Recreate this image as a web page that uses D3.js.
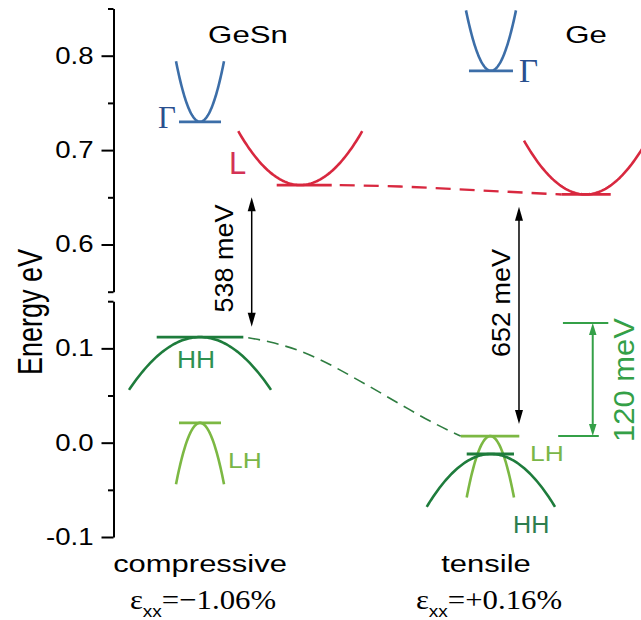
<!DOCTYPE html>
<html>
<head>
<meta charset="utf-8">
<script src="https://cdn.jsdelivr.net/npm/d3@7"></script>
<style>
  body { margin: 0; background: #fff; }
  svg { display: block; }
</style>
</head>
<body>
<svg id="chart" width="641" height="620"></svg>
<script>
// ---- band-edge data (energies in eV, k in schematic units) ----
const bandNames      = ["Γ", "L", "HH", "LH", "Γ", "L", "LH", "HH"];
const bandMaterial   = ["GeSn", "GeSn", "GeSn", "GeSn", "Ge", "Ge", "Ge", "Ge"];
const bandCenter     = [16.4, 35.4, 16.4, 16.4, 71.56, 89.48, 71.44, 71.54];
const bandEdge       = [0.730, 0.663, 0.112, 0.021, 0.784, 0.653, 0.007, -0.012];
const bandArmEnergy  = [0.794, 0.720, 0.056, -0.044, 0.848, 0.710, -0.058, -0.068];
const bandHalfWidth  = [4.55, 11.75, 13.46, 4.55, 4.74, 11.66, 4.48, 12.16];

// L-valley trend between the two alloys (dashed)
const lTrendK = [41.37, 54.31, 69.48, 84.97];
const lTrendE = [0.663, 0.6614, 0.6573, 0.653];
// top valence band trend (dashed)
const vbTrendK = [24.61, 29.67, 35.36, 39.15, 46.73, 54.31, 60.0, 63.79, 65.82];
const vbTrendE = [0.112, 0.1067, 0.0971, 0.0880, 0.0653, 0.0409, 0.0229, 0.0123, 0.007];

// band gaps (eV) measured from the HH edge of each alloy
const gapValues   = [0.538, 0.652];
const gapBaseBand = [2, 7];           // index of the HH band
const gapArrowLow = [0.123, 0.0197];  // lower arrow tip
// LH/HH splitting for Ge
const splitValue  = 0.120;
const splitBase   = 6;                // Ge LH edge

// axis ticks
const upperDomain = [0.55, 0.85];
const lowerDomain = [-0.1, 0.15];
const upperMajor = [0.6, 0.7, 0.8];
const upperMinor = [0.55, 0.65, 0.75, 0.85];
const lowerMajor = [-0.1, 0.0, 0.1];
const lowerMinor = [-0.05, 0.05, 0.15];

const columnTitles = ["GeSn", "Ge"];
const strainType   = ["compressive", "tensile"];
const strainValue  = ["−1.06%", "+0.16%"];

// ---- drawing ----
const svg = d3.select("#chart");
const sans  = "'Liberation Sans', Arial, Helvetica, sans-serif";
const serif = "'Liberation Serif', 'Times New Roman', Times, serif";

const x = d3.scaleLinear().domain([0, 100]).range([113.5, 641]);
const yTop = d3.scaleLinear().domain(upperDomain).range([291.7, 8.5]);
const yBot = d3.scaleLinear().domain(lowerDomain).range([537, 301.2]);
const y = v => (v > 0.4 ? yTop(v) : yBot(v));

const colors = { "Γ": "#3c6ea8", "L": "#d8283f", "HH": "#1e7c3c", "LH": "#7cb843" };

function addText(parent, str, px, py, o) {
  return parent.append("text")
    .attr("transform", `translate(${px},${py})` + (o.rot ? ` rotate(${o.rot})` : "") +
      ` scale(${o.sx || 1},${o.sy || 1})`)
    .attr("font-family", o.family || sans)
    .attr("font-size", o.size)
    .attr("fill", o.fill || "#000")
    .attr("text-anchor", o.anchor || "middle")
    .text(str);
}

// broken y axis: two segments
function drawAxis(scale, major, minor) {
  const g = svg.append("g").attr("transform", `translate(${x(0)},0)`);
  g.append("g").call(d3.axisLeft(scale).tickValues(minor).tickSize(5.5).tickSizeOuter(0).tickFormat(""));
  const m = g.append("g").call(d3.axisLeft(scale).tickValues(major).tickSize(12).tickSizeOuter(0)
    .tickFormat(d => d.toFixed(1)));
  m.select(".domain").remove();
  g.selectAll("path, line").attr("stroke", "#000").attr("stroke-width", 2);
  m.selectAll("text")
    .attr("x", null)
    .attr("transform", "translate(-20,0) scale(1.2,1)")
    .attr("font-family", sans).attr("font-size", 23).attr("fill", "#000");
}
drawAxis(yTop, upperMajor, upperMinor);
drawAxis(yBot, lowerMajor, lowerMinor);

addText(svg, "Energy eV", 42, 312, { size: 27, rot: -90, sy: 1.3 });

// band-edge marker lines (k extents)
const edgeSpan = [[12.42, 20.38], [30.94, 41.37], [8.19, 24.61], [12.42, 20.38],
                  [67.39, 75.73], [84.97, 94.26], [65.82, 76.93], [66.96, 75.92]];

const bands = bandNames.map((n, i) => ({
  name: n, mat: bandMaterial[i], k0: bandCenter[i], e0: bandEdge[i],
  eArm: bandArmEnergy[i], hw: bandHalfWidth[i], span: edgeSpan[i]
}));

const line = d3.line().x(d => x(d[0])).y(d => y(d[1]));
const gBands = svg.append("g");
bands.forEach(b => {
  gBands.append("line")
    .attr("x1", x(b.span[0])).attr("x2", x(b.span[1]))
    .attr("y1", y(b.e0)).attr("y2", y(b.e0))
    .attr("stroke", colors[b.name]).attr("stroke-width", 2.8);
  const pts = d3.range(0, 81).map(j => {
    const k = b.k0 - b.hw + 2 * b.hw * j / 80;
    return [k, b.e0 + (b.eArm - b.e0) * ((k - b.k0) / b.hw) ** 2];
  });
  gBands.append("path").attr("d", line(pts))
    .attr("fill", "none").attr("stroke", colors[b.name]).attr("stroke-width", 2.6);
});

// dashed trends
const curve = d3.line().x(d => x(d[0])).y(d => y(d[1])).curve(d3.curveMonotoneX);
svg.append("path").attr("d", curve(lTrendK.map((k, i) => [k, lTrendE[i]])))
  .attr("fill", "none").attr("stroke", colors["L"]).attr("stroke-width", 2.4)
  .attr("stroke-dasharray", "15,9").attr("stroke-dashoffset", -8);
svg.append("path").attr("d", curve(vbTrendK.map((k, i) => [k, vbTrendE[i]])))
  .attr("fill", "none").attr("stroke", "#2e7d40").attr("stroke-width", 1.6)
  .attr("stroke-dasharray", "12,7").attr("stroke-dashoffset", -5);

// arrow helper
function arrowHead(g, px, py, dir, len, wid, fill) {
  g.append("path")
    .attr("d", `M${px},${py} L${px - wid / 2},${py - dir * len} L${px + wid / 2},${py - dir * len} Z`)
    .attr("fill", fill);
}

// band gap arrows
const gapX = [26.2, 76.87];
const gapLabelPos = [[233, 258.4], [510, 303]];
gapValues.forEach((g, i) => {
  const top = bandEdge[gapBaseBand[i]] + g;
  const low = gapArrowLow[i];
  const px = x(gapX[i]);
  const grp = svg.append("g");
  grp.append("line").attr("x1", px).attr("x2", px)
    .attr("y1", y(top) + 10).attr("y2", y(low) - 10)
    .attr("stroke", "#000").attr("stroke-width", 1.5);
  arrowHead(grp, px, y(top), -1, 14, 8, "#000");
  arrowHead(grp, px, y(low), 1, 14, 8, "#000");
  addText(grp, `${Math.round(g * 1000)} meV`, gapLabelPos[i][0], gapLabelPos[i][1],
    { size: 25, rot: -90, sx: 1.08 });
});

// LH/HH splitting bracket
{
  const green = "#34a047";
  const lo = bandEdge[splitBase], hi = lo + splitValue;
  const grp = svg.append("g");
  grp.append("line").attr("x1", x(85.2)).attr("x2", x(93.8)).attr("y1", y(hi)).attr("y2", y(hi))
    .attr("stroke", green).attr("stroke-width", 2);
  grp.append("line").attr("x1", x(84.3)).attr("x2", x(92.0)).attr("y1", y(lo)).attr("y2", y(lo))
    .attr("stroke", green).attr("stroke-width", 2);
  const px = x(90.85);
  grp.append("line").attr("x1", px).attr("x2", px).attr("y1", y(hi) + 8).attr("y2", y(lo) - 8)
    .attr("stroke", green).attr("stroke-width", 2);
  arrowHead(grp, px, y(hi), -1, 12, 7.5, green);
  arrowHead(grp, px, y(lo), 1, 12, 7.5, green);
  addText(grp, `${Math.round(splitValue * 1000)} meV`, 634, 380, { size: 29.5, rot: -90, sx: 1.05, fill: green });
}

// band labels
addText(svg, "Γ", 158, 128, { size: 31, family: serif, fill: "#2a4f8f", anchor: "start" });
addText(svg, "Γ", 519, 81.7, { size: 33, family: serif, fill: "#2a4f8f", anchor: "start" });
addText(svg, "L", 229, 174, { size: 31, fill: "#d43255", anchor: "start" });
addText(svg, "HH", 177, 368, { size: 24, sx: 1.1, fill: "#2f9150", anchor: "start" });
addText(svg, "LH", 228, 468, { size: 22, sx: 1.2, fill: "#7ab648", anchor: "start" });
addText(svg, "LH", 530, 460.5, { size: 22, sx: 1.2, fill: "#7ab648", anchor: "start" });
addText(svg, "HH", 513, 533, { size: 24, sx: 1.05, fill: "#2d7d4e", anchor: "start" });

// column titles and strain captions
const titleX = [248, 586];
const captionX = [200, 486];
const strainX = [203, 489];
columnTitles.forEach((t, i) => addText(svg, t, titleX[i], 43, { size: 24, sx: 1.3 }));
strainType.forEach((t, i) => addText(svg, t, captionX[i], 572, { size: 24, sx: 1.29 }));
strainValue.forEach((v, i) => {
  const t = svg.append("text")
    .attr("transform", `translate(${strainX[i]},609) scale(1.12,1)`)
    .attr("text-anchor", "middle").attr("font-family", serif).attr("font-size", 27.5).attr("fill", "#000");
  t.append("tspan").text("ε");
  t.append("tspan").attr("font-family", sans).attr("font-size", 17).attr("dy", 8).text("xx");
  t.append("tspan").attr("dy", -8).text("=" + v);
});
</script>
</body>
</html>
